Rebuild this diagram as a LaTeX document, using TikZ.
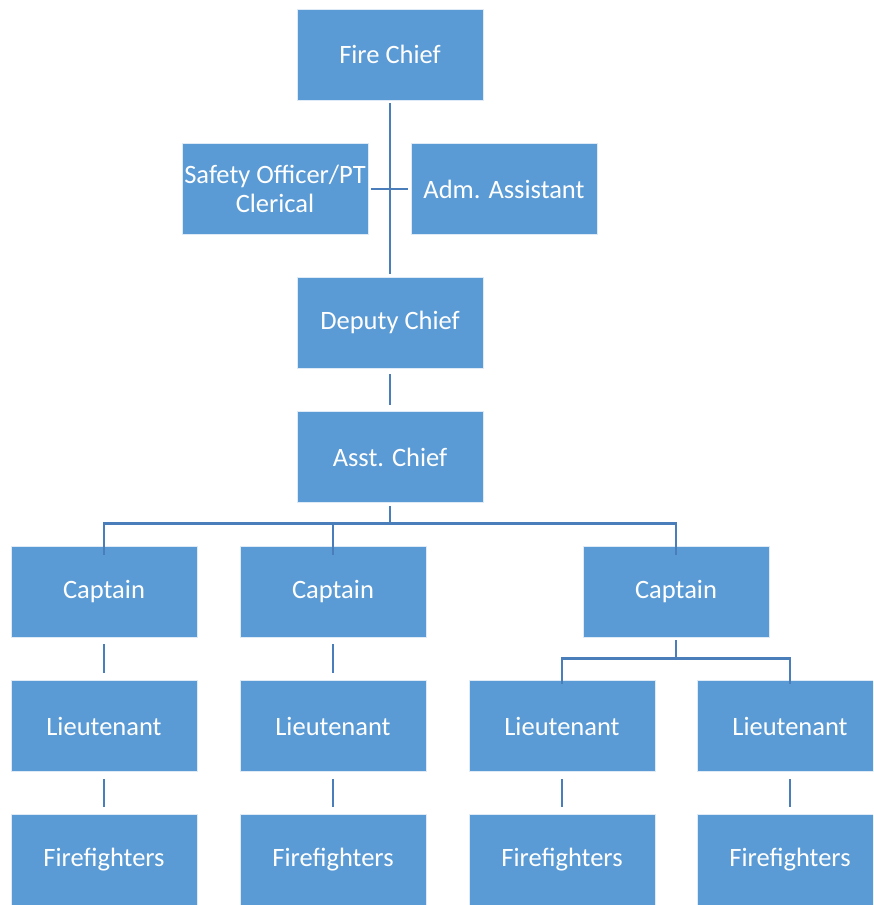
\documentclass[tikz,border=0pt]{standalone}
\usepackage{fontspec}
\setmainfont{Carlito}
\definecolor{boxblue}{HTML}{5B9BD5}
\definecolor{lineblue}{HTML}{4A7EBB}
\begin{document}
\begin{tikzpicture}[x=1pt,y=-1pt,
  box/.style={fill=boxblue,draw=white!80!boxblue,line width=0.6pt,minimum width=186pt,minimum height=91pt,inner sep=0pt,
    text=white,font=\fontsize{26.5}{29}\selectfont,align=center,anchor=center},
  conn/.style={draw=lineblue,line width=2.8pt}]
\useasboundingbox (0,0) rectangle (873,905);
\begin{scope}
\clip (0,0) rectangle (873,905);
\node[box] (fc) at (390,54.5) {Fire Chief};
\node[box] (so) at (275,189) {Safety Officer/PT\\Clerical};
\node[box] (aa) at (504,189) {Adm. Assistant};
\node[box] (dc) at (390,322.5) {Deputy Chief};
\node[box] (ac) at (390,457) {Asst. Chief};
\node[box] (c1) at (104,591.5) {Captain};
\node[box] (c2) at (333,591.5) {Captain};
\node[box] (c3) at (676,591.5) {Captain};
\node[box] (l1) at (104,726) {Lieutenant};
\node[box] (l2) at (333,726) {Lieutenant};
\node[box] (l3) at (562,726) {Lieutenant};
\node[box] (l4) at (790,726) {Lieutenant};
\node[box] (f1) at (104,860) {Firefighters};
\node[box] (f2) at (333,860) {Firefighters};
\node[box] (f3) at (562,860) {Firefighters};
\node[box] (f4) at (790,860) {Firefighters};
\end{scope}
% connectors
\draw[conn] ([yshift=-3pt]fc.south) -- ([yshift=3pt]dc.north);
\draw[conn] ([xshift=3pt]so.east) -- ([xshift=-3pt]aa.west);
\draw[conn] ([yshift=-6pt]dc.south) -- ([yshift=6pt]ac.north);
\draw[conn] ([yshift=-3pt]ac.south) -- ++(0,18) coordinate (bus1);
\draw[conn] ([yshift=-9pt]c1.north) |- (bus1) -| ([yshift=-9pt]c3.north);
\draw[conn] ([yshift=-9pt]c2.north) -- (c2.north |- bus1);
\draw[conn] ([yshift=-3pt]c3.south) -- ++(0,18) coordinate (bus2);
\draw[conn] ([yshift=-4pt]l3.north) |- (bus2) -| ([yshift=-4pt]l4.north);
\draw[conn] ([yshift=-7pt]c1.south) -- ([yshift=7pt]l1.north);
\draw[conn] ([yshift=-7pt]c2.south) -- ([yshift=7pt]l2.north);
\draw[conn] ([yshift=-7pt]l1.south) -- ([yshift=7pt]f1.north);
\draw[conn] ([yshift=-7pt]l2.south) -- ([yshift=7pt]f2.north);
\draw[conn] ([yshift=-7pt]l3.south) -- ([yshift=7pt]f3.north);
\draw[conn] ([yshift=-7pt]l4.south) -- ([yshift=7pt]f4.north);
\end{tikzpicture}
\end{document}
